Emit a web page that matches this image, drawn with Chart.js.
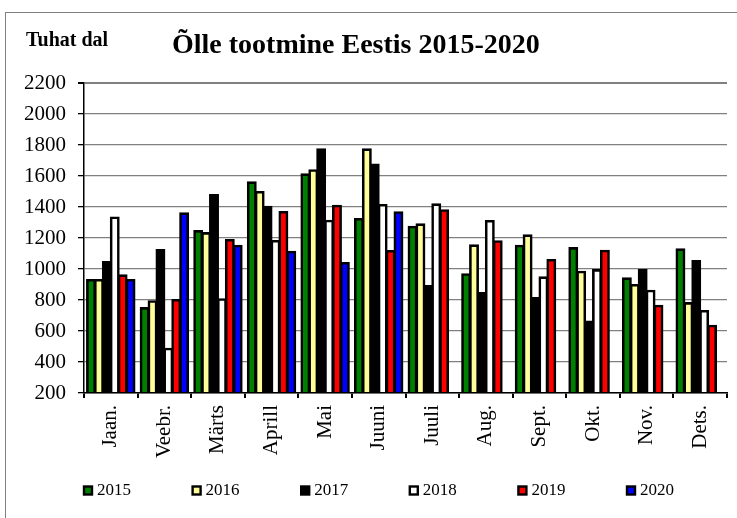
<!DOCTYPE html>
<html>
<head>
<meta charset="utf-8">
<script src="https://cdn.jsdelivr.net/npm/chart.js@4"></script>
<style>
  html, body { margin: 0; padding: 0; background: #fff; overflow: hidden; }
  #wrap { position: relative; width: 737px; height: 518px; }
  #frame { position: absolute; left: 5px; top: 12px; width: 800px; height: 600px; border: 1.5px solid #808080; box-sizing: border-box; }
  canvas { position: absolute; left: 0; top: 0; }
</style>
</head>
<body>
<div id="wrap">
  <div id="frame"></div>
  <canvas id="c" width="737" height="518"></canvas>
</div>
<script>
const chartTitle = 'Õlle tootmine Eestis 2015-2020';
const unitLabel = 'Tuhat dal';
const months = ['Jaan.', 'Veebr.', 'Märts', 'Aprill', 'Mai', 'Juuni', 'Juuli', 'Aug.', 'Sept.', 'Okt.', 'Nov.', 'Dets.'];
const years = ['2015', '2016', '2017', '2018', '2019', '2020'];
const v2015 = [929, 748, 1245, 1559, 1611, 1323, 1273, 966, 1150, 1135, 940, 1127];
const v2016 = [929, 792, 1232, 1497, 1637, 1772, 1288, 1153, 1217, 983, 897, 780];
const v2017 = [1045, 1123, 1477, 1402, 1772, 1675, 890, 845, 813, 662, 993, 1052];
const v2018 = [1333, 486, 805, 1181, 1312, 1413, 1417, 1310, 946, 993, 860, 729];
const v2019 = [959, 800, 1187, 1368, 1408, 1116, 1379, 1179, 1058, 1118, 763, 634];
const v2020 = [929, 1359, 1150, 1112, 1039, 1366, null, null, null, null, null, null];
const yTicks = [200, 400, 600, 800, 1000, 1200, 1400, 1600, 1800, 2000, 2200];

const seriesValues = [v2015, v2016, v2017, v2018, v2019, v2020];
const seriesColors = ['#008000', '#FFFF99', '#000000', '#FFFFFF', '#FF0000', '#0000FF'];
const FONT = "'Liberation Serif', 'Times New Roman', serif";

const titlePlugin = {
  id: 'titles',
  afterDraw(chart) {
    const ctx = chart.ctx;
    ctx.save();
    ctx.fillStyle = '#000';
    ctx.textBaseline = 'alphabetic';
    ctx.textAlign = 'left';
    ctx.font = "bold 20px " + FONT;
    ctx.fillText(unitLabel, 26, 46);
    ctx.font = "bold 28px " + FONT;
    ctx.fillText(chartTitle, 172, 53);
    ctx.restore();
  }
};

// Legend drawn from the chart's own datasets (label + colours)
const legendPlugin = {
  id: 'rowLegend',
  afterDraw(chart) {
    const ctx = chart.ctx;
    const startX = 84, step = 108.6, cy = 490.5;
    ctx.save();
    ctx.font = "17px " + FONT;
    ctx.textBaseline = 'middle';
    ctx.textAlign = 'left';
    chart.data.datasets.forEach((ds, i) => {
      const x = startX + i * step;
      ctx.fillStyle = ds.backgroundColor;
      ctx.fillRect(x, cy - 4, 8, 8);
      ctx.lineWidth = 2.4;
      ctx.strokeStyle = ds.borderColor;
      ctx.strokeRect(x, cy - 4, 8, 8);
      ctx.fillStyle = '#000';
      ctx.fillText(ds.label, x + 13, cy + 0.5);
    });
    ctx.restore();
  }
};

new Chart(document.getElementById('c'), {
  type: 'bar',
  data: {
    labels: months,
    datasets: years.map((y, i) => ({
      label: y,
      data: seriesValues[i],
      backgroundColor: seriesColors[i],
      borderColor: '#000000',
      borderWidth: 2.6,
      borderSkipped: 'start',
      inflateAmount: 1,
      barPercentage: 1,
      categoryPercentage: 0.885,
      clip: { left: false, top: false, right: false, bottom: 0 }
    }))
  },
  options: {
    responsive: false,
    animation: false,
    events: [],
    layout: { padding: { left: 6, right: 10, top: 83, bottom: 0 } },
    plugins: {
      tooltip: { enabled: false },
      title: { display: false },
      legend: { display: false }
    },
    scales: {
      x: {
        offset: true,
        grid: {
          offset: true,
          drawOnChartArea: true,
          color: (ctx) => ctx.index === months.length ? '#808080' : 'rgba(0,0,0,0)',
          lineWidth: 2,
          tickColor: '#000',
          tickLength: 5,
          drawTicks: true
        },
        border: { display: true, color: '#000', width: 1.5, z: 1 },
        ticks: {
          color: '#000',
          font: { family: FONT, size: 21 },
          minRotation: 90,
          maxRotation: 90,
          autoSkip: false,
          padding: 7
        },
        afterFit(scale) { scale.height = 125; }
      },
      y: {
        min: 200,
        max: 2200,
        afterBuildTicks(scale) { scale.ticks = yTicks.map(v => ({ value: v })); },
        grid: {
          color: '#808080',
          lineWidth: (ctx) => ctx.tick && ctx.tick.value === 2200 ? 2 : 1.3,
          tickColor: '#000',
          tickLength: 6
        },
        border: { display: true, color: '#000', width: 1.5, z: 1 },
        ticks: {
          color: '#000',
          font: { family: FONT, size: 21 },
          padding: 12,
          callback: (v) => String(v)
        },
        afterFit(scale) { scale.width = 78; }
      }
    }
  },
  plugins: [titlePlugin, legendPlugin]
});
</script>
</body>
</html>
